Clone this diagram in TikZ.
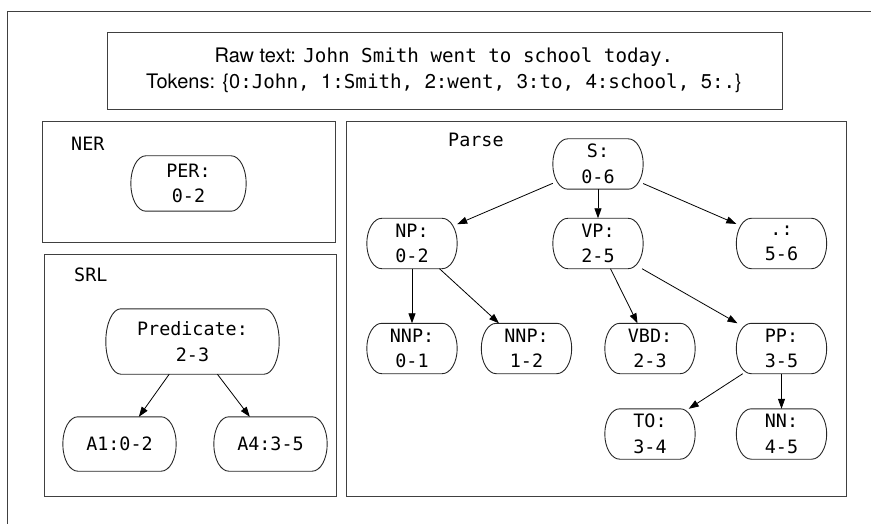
\documentclass[tikz,border=0pt]{standalone}
\usepackage{fontspec}
\setmonofont{DejaVu Sans Mono}
\newfontfamily\helv{TeX Gyre Heros}
\usetikzlibrary{calc,arrows.meta}
\newcommand\mtt[1]{{\ttfamily\fontsize{19.2}{25}\selectfont #1}}
% draws a box with half-elliptic ends around an existing node
\newcommand\rbox[2][15pt]{%
  \draw[nodeline] let \p1=(#2.north), \p2=(#2.south), \n1={(\y1-\y2)/2} in
    ([xshift=#1]#2.north west) -- ([xshift=-#1]#2.north east)
    arc[start angle=90, end angle=-90, x radius=#1, y radius=\n1]
    -- ([xshift=#1]#2.south west)
    arc[start angle=270, end angle=90, x radius=#1, y radius=\n1] -- cycle;}
\begin{document}
\begin{tikzpicture}[x=1pt,y=-1pt,
  tnode/.style={rectangle, minimum width=90pt, minimum height=50pt, inner sep=0pt, align=center,
    font=\ttfamily\fontsize{18.4}{25.5}\selectfont},
  nodeline/.style={draw=black!85, line width=0.9pt},
  frame/.style={draw=black!75, line width=0.9pt},
  lbl/.style={anchor=base west, inner sep=0pt, font=\ttfamily\fontsize{18.4}{25}\selectfont},
  toptext/.style={anchor=base, inner sep=0pt, font=\helv\fontsize{20}{25}\selectfont},
  arr/.style={-{Triangle[length=10pt,width=7pt]}, line width=0.8pt}]
\useasboundingbox (0,0) rectangle (871,524);
% outer frame (only top and left visible)
\draw[frame] (871,11) -- (7,11) -- (7,524);
% top box
\draw[frame] (107,32) rectangle (782,109);
\node[toptext] (raw) at (444,62.5)
  {Raw text: \mtt{John Smith went to school today.}};
\node[toptext] (tokens) at (444,89)
  {Tokens: \{0\mtt{:John, }1\mtt{:Smith, }2\mtt{:went, }3\mtt{:to, }4\mtt{:school, }5\mtt{:.}\}};
% panels
\draw[frame] (42,121) rectangle (335,242);
\draw[frame] (44,254) rectangle (336,496);
\draw[frame] (346,121) rectangle (846,496);
\node[lbl] (ner) at (71,150.7) {NER};
\node[lbl] (srl) at (74,281.7) {SRL};
\node[lbl] (parse) at (448,146.7) {Parse};
% NER
\node[tnode, minimum width=115pt, minimum height=55pt] (per) at (188.5,183.5) {PER:\\0-2};
% SRL
\node[tnode, minimum width=173pt, minimum height=65pt] (pred) at (192.5,341.5) {Predicate:\\2-3};
\node[tnode, minimum width=113pt, minimum height=54pt] (a1) at (119.5,444) {A1:0-2};
\node[tnode, minimum width=113pt, minimum height=54pt] (a4) at (270.5,444) {A4:3-5};
% Parse
\node[tnode] (s) at (598,164) {S:\\0-6};
\node[tnode] (np) at (412,243.5) {NP:\\0-2};
\node[tnode] (vp) at (598,243.5) {VP:\\2-5};
\node[tnode] (dot) at (781.5,243.5) {.:\\5-6};
\node[tnode] (nnp1) at (412,348.5) {NNP:\\0-1};
\node[tnode] (nnp2) at (526.5,348.5) {NNP:\\1-2};
\node[tnode] (vbd) at (650,348.5) {VBD:\\2-3};
\node[tnode] (pp) at (781.5,348.5) {PP:\\3-5};
\node[tnode] (to) at (650,434) {TO:\\3-4};
\node[tnode] (nn) at (781.5,434) {NN:\\4-5};
% borders
\foreach \nm in {per,pred,a1,a4,s,np,vp,dot,nnp1,nnp2,vbd,pp,to,nn} {\rbox{\nm}}
% connectors
\draw[arr] (pred) -- (a1);
\draw[arr] (pred) -- (a4);
\draw[arr] (s) -- (np);
\draw[arr] (s) -- (vp);
\draw[arr] (s) -- (dot);
\draw[arr] (np) -- (nnp1);
\draw[arr] (np) -- (nnp2);
\draw[arr] (vp) -- (vbd);
\draw[arr] (vp) -- (pp);
\draw[arr] (pp) -- (to);
\draw[arr] (pp) -- (nn);
\end{tikzpicture}
\end{document}
